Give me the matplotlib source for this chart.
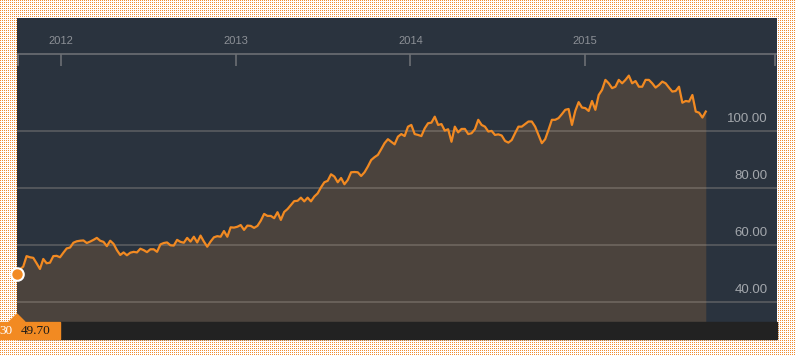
import numpy as np
import pandas as pd
import matplotlib
matplotlib.use("Agg")
import matplotlib.pyplot as plt
from matplotlib.patches import Rectangle, Polygon

# =============================
# Data (weekly closes)
# =============================

start_date = "2011-09-30"
start_label = "30"
start_value = "49.70"

price = [
    49.7, 51.5, 52.4, 56.1, 55.7, 55.5, 53.6, 51.6, 55.1, 53.6, 53.8, 56.1,
    56.2, 55.7, 57.3, 58.8, 59.1, 60.8, 61.3, 61.5, 61.6, 60.7, 61.2, 61.8,
    62.5, 61.5, 61.1, 59.6, 61.5, 60.4, 58.2, 56.5, 57.4, 56.4, 57.3,
    57.6, 57.4, 58.7, 58.2, 57.5, 58.5, 58.5, 57.6, 60.2, 60.7, 60.9, 59.9,
    59.8, 61.8, 61.1, 60.8, 62.5, 61.2, 62.9, 60.9, 63.3, 61.2, 59.4, 61.2,
    62.7, 63.1, 62.9, 64.9, 62.9, 66.2, 66.1, 66.4, 67.0, 65.3, 66.8, 66.7,
    66.0, 66.7,
    68.5, 70.9, 70.2, 70.2, 69.4, 71.5, 68.8, 71.6, 72.6, 74.0, 75.4, 75.5,
    76.6, 75.3, 76.6, 75.3, 77.0, 78.1, 80.2, 82.0, 82.5, 84.8, 84.0, 82.0,
    83.5, 81.3, 82.8, 85.5, 85.6, 85.5, 84.2, 85.5, 87.5, 89.8, 90.8,
    91.6, 93.6, 95.7, 97.1, 96.2, 95.3, 98.0, 98.9, 98.2, 101.5, 102.1, 98.9,
    98.6, 98.2, 100.9, 102.7, 102.9, 105.0, 102.1, 102.4, 100.1, 100.6, 96.2,
    101.5, 99.5, 100.7, 100.7, 98.9, 99.2, 100.6, 103.9, 102.1, 101.5, 99.8,
    100.0, 98.6, 98.8,
    98.4, 96.5, 95.9, 96.8, 99.2, 101.5, 101.5, 102.4, 103.3, 103.3, 101.5,
    98.6, 95.7, 97.1, 100.4, 103.9, 103.9, 104.5, 105.9, 107.4, 107.7, 102.1,
    107.0, 110.1, 108.2, 108.0, 107.0, 110.5, 107.4,
    112.6, 114.4, 117.9, 116.7, 115.0, 115.5, 117.9, 116.7, 117.9, 119.4,
    116.7, 117.5, 115.5, 115.5, 117.9, 117.9, 116.7, 115.2, 116.1, 117.3,
    116.7, 115.2, 113.8, 114.0, 115.5, 109.9, 110.5, 110.3, 112.6, 106.8,
    106.4, 104.7, 106.8,
]

year_ticks = ["2012-01-01", "2013-01-01", "2014-01-01", "2015-01-01"]
year_labels = ["2012", "2013", "2014", "2015"]
y_ticks = [40, 60, 80, 100]

dates = pd.date_range(start_date, periods=len(price), freq="7D")

# =============================
# Figure / background
# =============================

W, H = 796, 356
fig = plt.figure(figsize=(W / 100, H / 100), dpi=100)

# dotted orange backdrop
bg = np.ones((H, W, 3))
dots = np.zeros((H, W), dtype=bool)
dots[::2, ::2] = True
bg[dots] = np.array([240, 140, 50]) / 255.0
fig.figimage(bg, 0, 0, zorder=0)

def px(x, y):
    return x / W, 1 - y / H

panel_color = "#2a333e"
fill_color = "#4b433d"
line_color = "#f28a22"
orange = "#f28a22"

ax = fig.add_axes([17 / W, (H - 322) / H, 760 / W, 304 / H])
ax.set_facecolor(panel_color)
ax.set_zorder(1)

ymin, ymax = 33.0, 139.6
ax.set_ylim(ymin, ymax)
ax.set_xlim(pd.Timestamp("2011-10-01"), pd.Timestamp("2016-02-07"))

ax.fill_between(dates, price, ymin, color=fill_color, zorder=1, lw=0)

for v in y_ticks:
    ax.axhline(v, color="#a8a098", alpha=0.38, lw=1.2, zorder=2)
    ax.annotate(f"{v:.2f}", xy=(0.988, v), xycoords=ax.get_yaxis_transform(),
                xytext=(0, 8.5), textcoords="offset points",
                ha="right", va="center", fontsize=9.5, color="#a3a7ac",
                family="Liberation Sans")

ax.plot(dates, price, color=line_color, lw=1.6, zorder=3, solid_joinstyle="round")
ax.plot(dates[0], price[0], "o", ms=9, color=orange, mec="white", mew=1.5,
        zorder=5, clip_on=False)

# top time axis
axis_y = (322 - 54) / 304
tick_len = 12 / 304
ax.plot([0, 1], [axis_y, axis_y], color="#6b6f74", lw=1.2, zorder=2,
        transform=ax.transAxes)
tick_dates = [pd.Timestamp(d) for d in year_ticks]
ax.vlines(tick_dates, axis_y - tick_len, axis_y, color="#6b6f74", lw=1.2,
          transform=ax.get_xaxis_transform(), zorder=2)
ax.vlines([0.0015, 0.9975], axis_y - tick_len, axis_y, color="#6b6f74", lw=1.2,
          transform=ax.transAxes, zorder=2)
for d, lab in zip(tick_dates, year_labels):
    ax.text(d, (322 - 41) / 304, lab, transform=ax.get_xaxis_transform(),
            ha="center", va="center", fontsize=8, color="#8c9096",
            family="Liberation Sans")

ax.set_xticks([])
ax.set_yticks([])
for s in ax.spines.values():
    s.set_visible(False)

# bottom strip and start value label
x0, y0 = px(17, 339)
fig.patches.append(Rectangle((x0, y0), 760 / W, 17 / H, color="#222222",
                             transform=fig.transFigure, zorder=2))
bx, by = px(0, 339)
fig.patches.append(Rectangle((bx, by), 60 / W, 17 / H, color=orange,
                             transform=fig.transFigure, zorder=3))
fig.patches.append(Polygon([px(9, 322), px(17, 314), px(25, 322)], closed=True,
                           color=orange, transform=fig.transFigure, zorder=3))
fig.text(*px(12.5, 331), start_label, ha="right", va="center", fontsize=9.5,
         color="white", family="Liberation Serif", zorder=4)
fig.text(*px(21, 331), start_value, ha="left", va="center", fontsize=9.5,
         color="#1a1a1a", family="Liberation Serif", zorder=4)

fig.savefig("out.png", dpi=100)
